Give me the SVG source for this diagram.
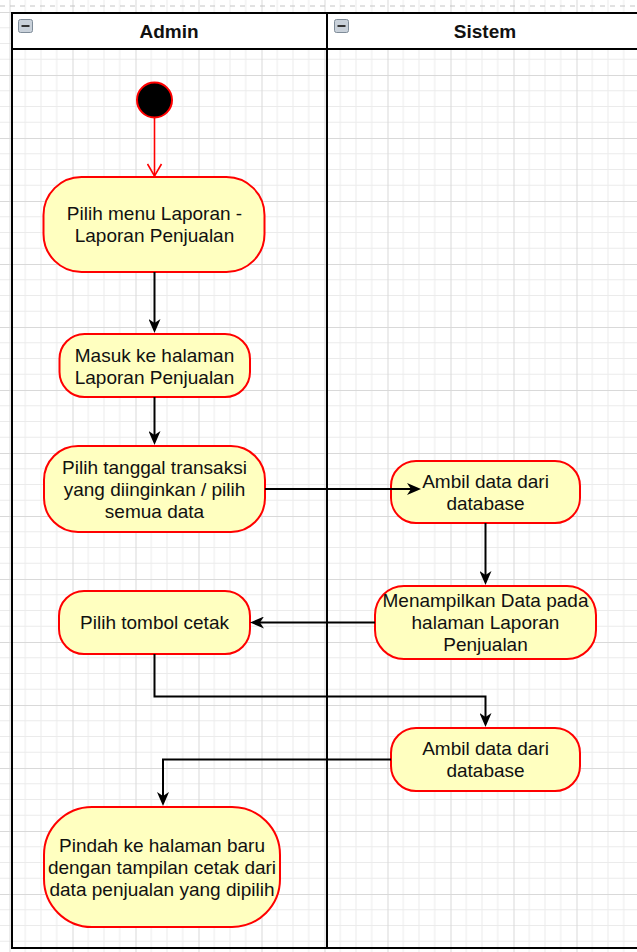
<svg xmlns="http://www.w3.org/2000/svg" width="637" height="952" viewBox="0 0 637 952">
<defs>
<pattern id="grid" x="9.5" y="12" width="63" height="63" patternUnits="userSpaceOnUse">
<path d="M15.75 0V63M31.5 0V63M47.25 0V63M0 15.75H63M0 31.5H63M0 47.25H63" stroke="#ebebeb" stroke-width="1" fill="none"/>
<path d="M0.5 0V63M0 0.5H63" stroke="#d9d9d9" stroke-width="1" fill="none"/>
</pattern>
<marker id="arr" viewBox="0 0 14 12" refX="9" refY="6" markerWidth="14" markerHeight="12" markerUnits="userSpaceOnUse" orient="auto">
<path d="M0,0 L14,6 L0,12 L4,6 Z" fill="#000"/>
</marker>
<marker id="open" viewBox="0 0 14 16" refX="13" refY="8" markerWidth="14" markerHeight="16" markerUnits="userSpaceOnUse" orient="auto">
<path d="M1,1 L13,8 L1,15" fill="none" stroke="#ff0000" stroke-width="1.6"/>
</marker>
</defs>
<style>
.node rect{fill:#ffffc0;stroke:#ff0000;stroke-width:2}
.node text{font-family:"Liberation Sans",Arial,sans-serif;font-size:19px;fill:#111;text-anchor:middle}
.hdr{font-family:"Liberation Sans",Arial,sans-serif;font-size:19px;font-weight:bold;fill:#111;text-anchor:middle}
.edge{fill:none;stroke:#000;stroke-width:2;marker-end:url(#arr)}
.icon rect{fill:#c9d1da;stroke:#7f8c99;stroke-width:1}
.icon path{stroke:#333;stroke-width:2}
</style>
<rect width="637" height="952" fill="#fff"/>
<rect width="637" height="952" fill="url(#grid)"/>
<line x1="0" y1="6" x2="637" y2="6" stroke="#c4c4c4" stroke-width="1" stroke-dasharray="5 5"/>
<g id="pool">
<rect x="12" y="13" width="640" height="36" fill="#fff" stroke="#000" stroke-width="2"/>
<path d="M12 13V948H640M327 13V948" fill="none" stroke="#000" stroke-width="2"/>
<text class="hdr" x="169" y="38">Admin</text>
<text class="hdr" x="485" y="38">Sistem</text>
<g class="icon"><rect x="18.5" y="19.5" width="14" height="13" rx="2"/><path d="M21.5 26H29.5"/></g>
<g class="icon"><rect x="334.5" y="19.5" width="14" height="13" rx="2"/><path d="M337.5 26H345.5"/></g>
</g>
<g id="start"><circle cx="154.5" cy="100" r="17.5" fill="#000" stroke="#ff0000" stroke-width="2"/></g>
<g id="n1" class="node"><rect x="43.5" y="177" width="221" height="95" rx="38"/><text x="154.5" y="220">Pilih menu Laporan -</text><text x="154.5" y="242">Laporan Penjualan</text></g>
<g id="n2" class="node"><rect x="59.5" y="334" width="190.5" height="63" rx="25"/><text x="154.5" y="361.5">Masuk ke halaman</text><text x="154.5" y="383.5">Laporan Penjualan</text></g>
<g id="n3" class="node"><rect x="44" y="446" width="221" height="86" rx="34"/><text x="154.5" y="473.5">Pilih tanggal transaksi</text><text x="154.5" y="495.5">yang diinginkan / pilih</text><text x="154.5" y="517.5">semua data</text></g>
<g id="n4" class="node"><rect x="391" y="461" width="189" height="62" rx="25"/><text x="485.5" y="488">Ambil data dari</text><text x="485.5" y="510">database</text></g>
<g id="n5" class="node"><rect x="375" y="586" width="221" height="73" rx="29"/><text x="485.5" y="606.5">Menampilkan Data pada</text><text x="485.5" y="628.5">halaman Laporan</text><text x="485.5" y="650.5">Penjualan</text></g>
<g id="n6" class="node"><rect x="59" y="591" width="191" height="63" rx="25"/><text x="154.5" y="629">Pilih tombol cetak</text></g>
<g id="n7" class="node"><rect x="391" y="728" width="189" height="63" rx="25"/><text x="485.5" y="755">Ambil data dari</text><text x="485.5" y="777">database</text></g>
<g id="n8" class="node"><rect x="44" y="807" width="236" height="120" rx="48"/><text x="162" y="851.5">Pindah ke halaman baru</text><text x="162" y="873.5">dengan tampilan cetak dari</text><text x="162" y="895.5">data penjualan yang dipilih</text></g>
<g id="edges">
<path d="M154.5 118V176" fill="none" stroke="#ff0000" stroke-width="1.6" marker-end="url(#open)"/>
<path class="edge" d="M154.5 272V328"/>
<path class="edge" d="M154.5 397V440"/>
<path class="edge" d="M265 489H416"/>
<path class="edge" d="M485.5 523V580"/>
<path class="edge" d="M375 622.5H255"/>
<path class="edge" d="M154.5 654V696.5H485.5V722"/>
<path class="edge" d="M391 759.5H163V801"/>
</g>
</svg>
